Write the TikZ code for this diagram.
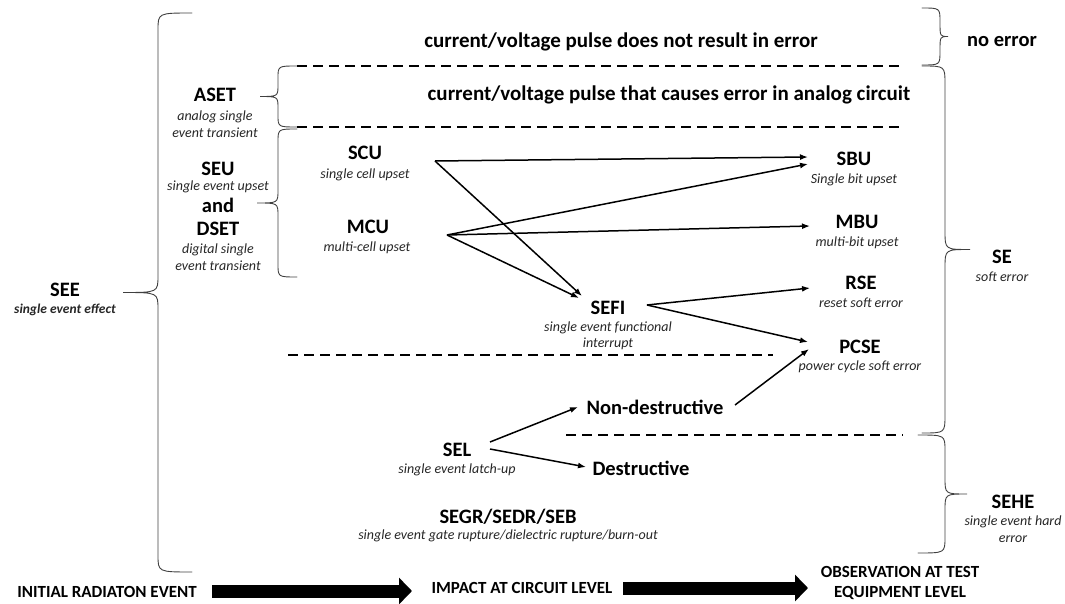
\documentclass[tikz,border=0pt]{standalone}
\usepackage{fontspec}
\setmainfont{Carlito}
\usetikzlibrary{calc,arrows.meta}

\newcommand{\vbrace}[6]{%
	\draw[brc] (#1,#4) .. controls (#2,#4) .. (#2,#4+#6)
	-- (#2,{(#4+#5)/2-#6}) .. controls (#2,{(#4+#5)/2}) .. (#3,{(#4+#5)/2})
	.. controls (#2,{(#4+#5)/2}) .. (#2,{(#4+#5)/2+#6})
	-- (#2,#5-#6) .. controls (#2,#5) .. (#1,#5);}

\begin{document}
\begin{tikzpicture}[x=1pt,y=-1pt]
	\tikzstyle{lbl} = [font=\fontsize{20.5}{22}\selectfont\bfseries,inner sep=0pt]
	\tikzstyle{sublbl} = [font=\fontsize{14}{16.5}\selectfont\itshape,inner sep=0pt,align=center,text=black!85]
	\tikzstyle{pulse} = [font=\fontsize{21}{22}\selectfont\bfseries,inner sep=0pt]
	\tikzstyle{lvl} = [font=\fontsize{17}{20}\selectfont\bfseries,inner sep=0pt,align=center]
	\tikzstyle{brc} = [line width=0.9pt,black!75,line cap=round]
	\tikzstyle{divider} = [line width=1.8pt,dash pattern=on 10pt off 6pt]
	\tikzstyle{flow} = [-{Latex[length=8pt,width=6pt]},line width=1.5pt]
	\tikzstyle{bigflow} = [-{Triangle[length=13pt,width=26pt]},line width=13pt]
	\useasboundingbox (0,0) rectangle (1065,604);
	\node[lbl](SEE)at(65,290){SEE};
	\node[sublbl,font=\fontsize{13.5}{16.5}\selectfont\bfseries\itshape](SEEtext)at(65,310){single event effect};
	\node[lbl](ASET)at(215,95){ASET};
	\node[sublbl](ASETtext)at(215,124){analog single\\event transient};
	\node[lbl](SEU)at(218,169){SEU};
	\node[sublbl](SEUtext)at(218,187){single event upset};
	\node[lbl](and)at(218,205){and};
	\node[lbl](DSET)at(218,229){DSET};
	\node[sublbl](DSETtext)at(218,257){digital single\\event transient};
	\node[pulse](noerr)at(621,42){current/voltage pulse does not result in error};
	\node[pulse](analog)at(669,95){current/voltage pulse that causes error in analog circuit};
	\node[lbl](noerror)at(1002,42){no error};
	\node[lbl](SCU)at(365,153){SCU};
	\node[sublbl](SCUtext)at(365,175){single cell upset};
	\node[lbl](MCU)at(368,227){MCU};
	\node[sublbl](MCUtext)at(367,248){multi-cell upset};
	\node[lbl](SBU)at(854,159){SBU};
	\node[sublbl](SBUtext)at(854,180){Single bit upset};
	\node[lbl](MBU)at(857,222){MBU};
	\node[sublbl](MBUtext)at(857,243){multi-bit upset};
	\node[lbl](RSE)at(861,283){RSE};
	\node[sublbl](RSEtext)at(861,303){reset soft error};
	\node[lbl](PCSE)at(860,347){PCSE};
	\node[sublbl](PCSEtext)at(860,367){power cycle soft error};
	\node[lbl](SEFI)at(608,308){SEFI};
	\node[sublbl](SEFItext)at(608,336){single event functional\\interrupt};
	\node[lbl](SE)at(1002,257){SE};
	\node[sublbl](SEtext)at(1002,277){soft error};
	\node[lbl](nondes)at(655,407){Non-destructive};
	\node[lbl](des)at(641,468){Destructive};
	\node[lbl](SEL)at(457,450){SEL};
	\node[sublbl](SELtext)at(457,470){single event latch-up};
	\node[lbl](SEGR)at(508,517){SEGR/SEDR/SEB};
	\node[sublbl](SEGRtext)at(508,536){single event gate rupture/dielectric rupture/burn-out};
	\node[lbl](SEHE)at(1013,502){SEHE};
	\node[sublbl](SEHEtext)at(1013,529){single event hard\\error};
	\node[lvl](init)at(107,592){INITIAL RADIATON EVENT};
	\node[lvl](impact)at(522,588){IMPACT AT CIRCUIT LEVEL};
	\node[lvl](obs)at(900,583){OBSERVATION AT TEST\\EQUIPMENT LEVEL};
	\vbrace{192}{158}{123}{13}{572}{17}
	\vbrace{297}{278}{260}{66}{127}{12}
	\vbrace{297}{278}{257}{129}{277}{13}
	\vbrace{922}{940}{948}{8}{65}{14}
	\vbrace{922}{945}{970}{66}{433}{18}
	\vbrace{918}{945}{967}{435}{553}{16}
	\draw[divider] (297,66) -- (905,66);
	\draw[divider] (297,127) -- (905,127);
	\draw[divider] (288,355) -- (773,355);
	\draw[divider] (566,435) -- (903,435);
	\path[flow] ($(SCU)+(70,8)$) edge ($(SBU)+(-46,-2)$)
	($(SCU)+(70,8)$) edge ($(SEFI)+(-26,-12)$)
	($(MCU)+(79,8)$) edge ($(SBU)+(-46,5)$)
	($(MCU)+(79,8)$) edge ($(MBU)+(-47,4)$)
	($(MCU)+(79,8)$) edge ($(SEFI)+(-29,-10)$)
	($(SEFI)+(39,-3)$) edge ($(RSE)+(-51,5)$)
	($(SEFI)+(39,-3)$) edge ($(PCSE)+(-52,-5)$)
	($(SEL)+(33,-8)$) edge ($(nondes)+(-77,0)$)
	($(SEL)+(33,-1)$) edge ($(des)+(-55,-1)$)
	($(nondes)+(80,-2)$) edge ($(PCSE)+(-51,2)$);
	\draw[bigflow] ($(init)+(105,-1)$) -- ($(impact)+(-110,3)$);
	\draw[bigflow] ($(impact)+(101,0)$) -- ($(obs)+(-92,5)$);
\end{tikzpicture}
\end{document}
